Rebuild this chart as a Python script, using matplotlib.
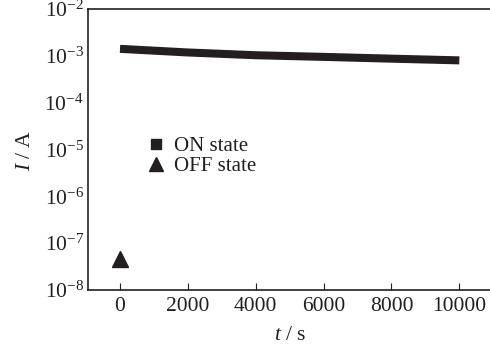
import matplotlib
matplotlib.use("Agg")
import matplotlib.pyplot as plt
from matplotlib.lines import Line2D
from matplotlib.ticker import FixedLocator, NullFormatter

# Data
on_time = [0, 2000, 4000, 6000, 8000, 10000]
on_current = [1.41e-3, 1.18e-3, 1.03e-3, 0.95e-3, 0.87e-3, 0.80e-3]
off_time = [0]
off_current = [4.6e-8]
xticks = [0, 2000, 4000, 6000, 8000, 10000]
yticks = [1e-8, 1e-7, 1e-6, 1e-5, 1e-4, 1e-3, 1e-2]

ink = "#231f20"
plt.rcParams["font.family"] = ["Liberation Serif", "DejaVu Serif"]
plt.rcParams["mathtext.fontset"] = "custom"
plt.rcParams["mathtext.rm"] = "Liberation Serif"
plt.rcParams["mathtext.it"] = "Liberation Serif:italic"
plt.rcParams["text.color"] = ink

fig = plt.figure(figsize=(4.9, 3.49), dpi=100)
ax = fig.add_axes([88/490, 1-290/349, 1-88/490, (290-9)/349])

ax.plot(on_time, on_current, color=ink, lw=5.8, solid_capstyle="butt")
ax.plot(off_time, off_current, ls="none", marker="^", ms=11, color=ink)

ax.set_yscale("log")
ax.set_ylim(1e-8, 1e-2)
ax.set_xlim(-943, 10904)
ax.set_xticks(xticks)
ax.set_yticks(yticks)
ax.yaxis.set_minor_locator(FixedLocator([1e-3]))
ax.yaxis.set_minor_formatter(NullFormatter())
ax.tick_params(axis="y", which="major", length=0, labelsize=15.5, labelcolor=ink, pad=3)
ax.tick_params(axis="y", which="minor", direction="inout", length=6, width=0.8, color=ink)
ax.tick_params(axis="x", which="both", direction="in", length=5, width=0.8, color=ink,
               labelsize=15.5, labelcolor=ink, pad=5, top=False)
ax.xaxis.set_minor_locator(FixedLocator([]))

for s in ["left", "bottom", "top"]:
    ax.spines[s].set_color(ink)
    ax.spines[s].set_linewidth(1.2)
ax.spines["right"].set_visible(False)

handles = [Line2D([], [], ls="none", marker="s", ms=7, color=ink),
           Line2D([], [], ls="none", marker="^", ms=10, color=ink)]
ax.legend(handles, ["ON state", "OFF state"], frameon=False, fontsize=15,
          loc="upper left", bbox_to_anchor=(0.12, 0.575), handletextpad=0.3,
          labelspacing=0.0, handlelength=1.1, borderaxespad=0)

fig.text(25/490, 1-150/349, "$I$ / A", rotation=90, ha="center", va="center", fontsize=15.5)
fig.text(290/490, 1-336/349, "$t$ / s", ha="center", va="center", fontsize=15.5)

fig.savefig("out.png", dpi=100)
